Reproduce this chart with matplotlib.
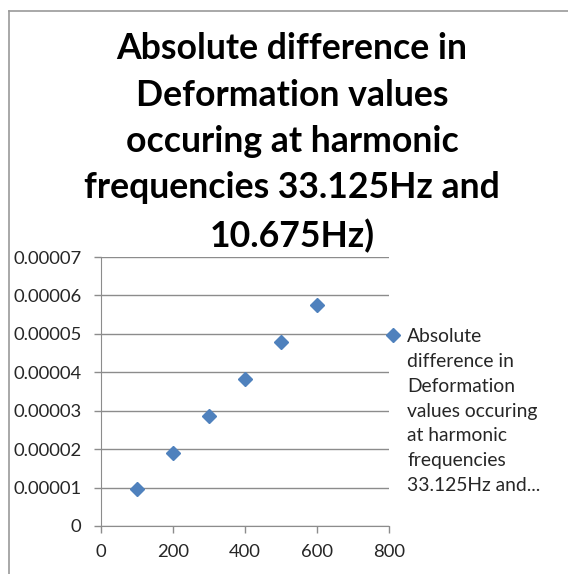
import matplotlib.pyplot as plt
from matplotlib.lines import Line2D

# data
freq = [100, 200, 300, 400, 500, 600]
abs_diff = [0.0000096, 0.0000190, 0.0000286, 0.0000383, 0.0000479, 0.0000575]
serie = ('Absolute\ndifference in\nDeformation\nvalues occuring\nat harmonic\n'
         'frequencies\n33.125Hz and...')
titulo = ('Absolute difference in\nDeformation values\noccuring at harmonic\n'
          'frequencies 33.125Hz and\n10.675Hz)')
y_ticks = [0, 0.00001, 0.00002, 0.00003, 0.00004, 0.00005, 0.00006, 0.00007]
y_labels = ['0', '0.00001', '0.00002', '0.00003', '0.00004', '0.00005', '0.00006', '0.00007']
x_ticks = [0, 200, 400, 600, 800]

plt.rcParams['font.family'] = ['Lato', 'DejaVu Sans']
cinza = '#8c8c8c'

fig = plt.figure(figsize=(5.68, 5.74), dpi=100)
ax = fig.add_axes([101 / 568, 1 - 526 / 574, 288 / 568, 269 / 574])

ax.plot(freq, abs_diff, linestyle='none', marker='D', markersize=7,
        color='#4f81bd', label=serie)

ax.set_xlim(0, 800)
ax.set_ylim(0, 0.00007)
ax.set_xticks(x_ticks)
ax.set_yticks(y_ticks)
ax.set_yticklabels(y_labels)
ax.tick_params(labelsize=13.3, colors=cinza, labelcolor='#262626', length=5, width=1)
ax.tick_params(axis='y', pad=9)
ax.tick_params(axis='x', pad=8)
ax.yaxis.grid(True, color=cinza, linewidth=1)
ax.set_axisbelow(True)
for lado in ['top', 'right']:
    ax.spines[lado].set_visible(False)
for lado in ['left', 'bottom']:
    ax.spines[lado].set_color(cinza)

fig.suptitle(titulo, x=292 / 568, y=1 - 32 / 574, va='top', fontsize=25.7,
             fontweight='bold', linespacing=1.5)

leg = ax.legend(loc='upper left', bbox_to_anchor=(384 / 568, 1 - 328 / 574),
                bbox_transform=fig.transFigure, frameon=False, fontsize=13.9,
                handlelength=0.9, handletextpad=0.3, borderpad=0, borderaxespad=0)
for t in leg.get_texts():
    t.set_linespacing(1.56)
    t.set_color('#262626')
# put the marker beside the first line of the label
for col in leg._legend_handle_box.get_children():
    for linha in col.get_children():
        linha.align = 'top'

# chart border (top and left visible)
fig.add_artist(Line2D([9 / 568, 9 / 568], [0, 1 - 11 / 574], transform=fig.transFigure,
                      color='#9a9a9a', linewidth=1.2))
fig.add_artist(Line2D([9 / 568, 1], [1 - 11 / 574, 1 - 11 / 574], transform=fig.transFigure,
                      color='#9a9a9a', linewidth=1.2))

fig.savefig('out.png', dpi=100)
